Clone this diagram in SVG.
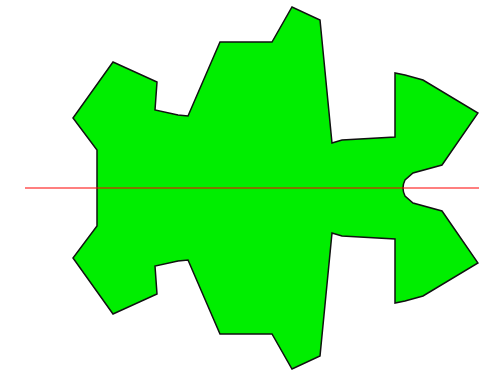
<svg xmlns="http://www.w3.org/2000/svg" width="479" height="372" viewBox="0 0 479 372">
<style>
.shape{fill:#00ee00;stroke:#111;stroke-width:1.5;stroke-linejoin:miter}
.axis{stroke:#ff0000;stroke-width:1.2}
</style>
<rect width="479" height="372" fill="#fff"/>
<g id="shape">
<path class="shape" d="M97,188 L97,150 L73,118 L113,62 L157,82 L155,110 L178,115 L188,116 L220,42 L272,42 L292,7 L320,20 L332,143 L342,140 L395,137 L395,73 L405,75 L423,80 L478,113 L442,165 L413,173 L405,180 Q401,188 405,196 L413,203 L442,211 L478,263 L423,296 L405,301 L395,303 L395,239 L342,236 L332,233 L320,356 L292,369 L272,334 L220,334 L188,260 L178,261 L155,266 L157,294 L113,314 L73,258 L97,226 Z"/>
</g>
<g id="connectors">
<line class="axis" x1="25" y1="188" x2="479" y2="188"/>
</g>
</svg>
